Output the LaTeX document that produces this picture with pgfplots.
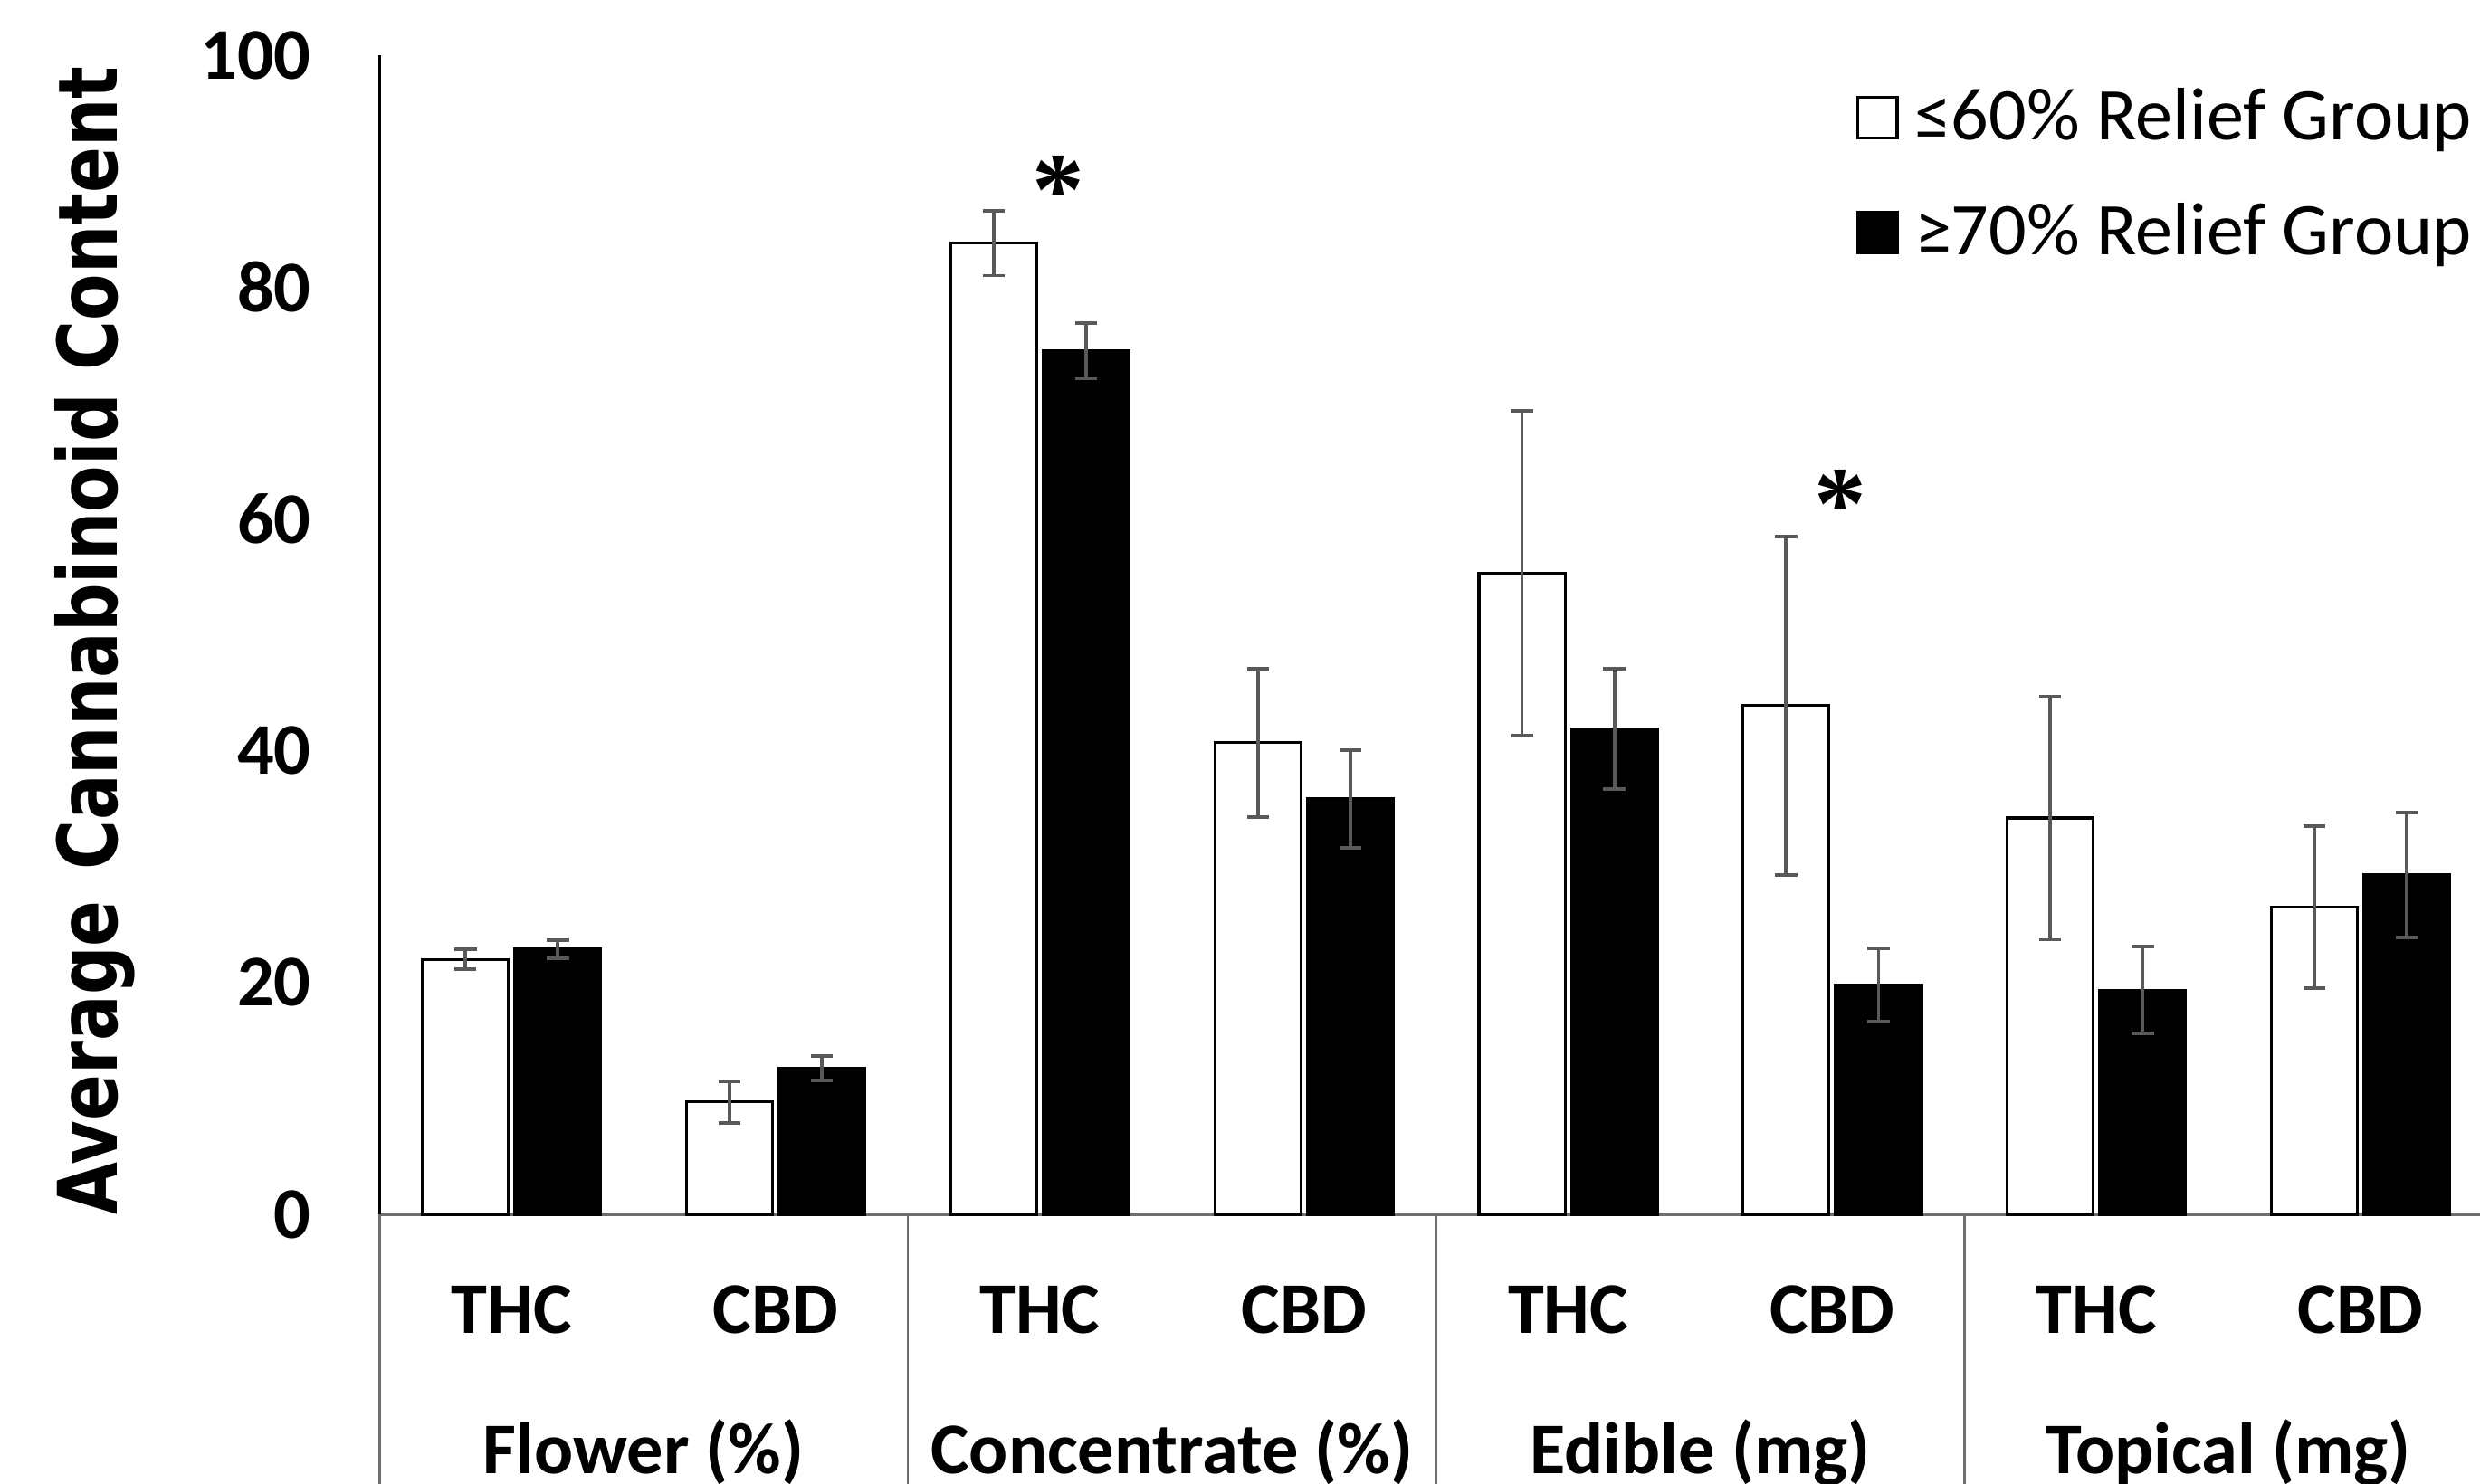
\documentclass[border=0pt]{standalone}
\usepackage{pgfplots}
\usepackage{pgfplotstable}
\pgfplotsset{compat=1.18}
\usepackage{fontspec}
\setmainfont{Carlito}
\newfontfamily\labelfont{DejaVu Sans}
\newfontfamily\starfont{Liberation Serif}
\definecolor{axgray}{RGB}{110,110,110}
\definecolor{errgray}{RGB}{89,89,89}

\pgfplotstableread{
x lo loe hi hie
0 22.0 0.85 22.9 0.77
1 9.7 1.8 12.6 1.05
2 83.8 2.8 74.5 2.4
3 40.7 6.4 35.85 4.2
4 55.3 14.0 41.9 5.2
5 43.9 14.6 19.8 3.15
6 34.2 10.5 19.35 3.75
7 26.5 7.0 29.3 5.4
}\datatable

\begin{document}
\begin{tikzpicture}
\useasboundingbox (-120pt,-85pt) rectangle (664pt,384pt);
\clip (-120pt,-85pt) rectangle (664pt,384pt);
\begin{axis}[
  at={(0pt,0pt)}, anchor=south west,
  scale only axis, width=668pt, height=366.5pt,
  xmin=-0.5, xmax=7.5, ymin=0, ymax=100,
  clip=false,
  axis x line*=bottom, axis y line*=left,
  x axis line style={draw=axgray, line width=1.2pt},
  y axis line style={draw=black, line width=1pt},
  ytick={0,20,...,100},
  xtick={0,...,7},
  xticklabels={THC,CBD,THC,CBD,THC,CBD,THC,CBD},
  major tick length=0pt,
  tick style={draw=none},
  /pgf/number format/assume math mode=true,
  yticklabel style={font=\fontsize{23}{27}\selectfont\bfseries, inner sep=0pt, anchor=east, xshift=-21.5pt},
  xticklabel style={font=\fontsize{23}{27}\selectfont\bfseries, inner sep=0pt, anchor=base, yshift=-37.5pt},
  ylabel={\scalebox{0.825}[1]{Average\hspace{0.45em}Cannabinoid Content}},
  ylabel style={font=\labelfont\fontsize{26}{30}\selectfont\bfseries, at={(axis description cs:-0.1347,0.495)}, anchor=center},
  ybar=2pt, bar width=27.2pt,
  legend style={draw=none, fill=none, at={(0.694,0.898)}, anchor=west,
    font=\fontsize{23.5}{28}\selectfont, row sep=18.5pt, column sep=5pt,
    nodes={inner sep=0pt}},
  legend cell align=left,
]
\addplot[fill=white, draw=black, line width=0.9pt,
  legend image code/.code={\draw[black, fill=white, line width=0.9pt] (0pt,-7pt) rectangle (12.5pt,6pt);},
  error bars/.cd, y dir=both, y explicit,
  error bar style={draw=errgray, line width=1.1pt},
  error mark options={rotate=90, draw=errgray, line width=1.1pt, mark size=3.5pt}]
  table[x=x, y=lo, y error=loe] {\datatable};
\addlegendentry{≤60\% Relief Group}
\addplot[fill=black, draw=black, line width=0.9pt,
  legend image code/.code={\fill[black] (0pt,-7pt) rectangle (12.5pt,6pt);},
  error bars/.cd, y dir=both, y explicit,
  error bar style={draw=errgray, line width=1.1pt},
  error mark options={rotate=90, draw=errgray, line width=1.1pt, mark size=3.5pt}]
  table[x=x, y=hi, y error=hie] {\datatable};
\addlegendentry{≥70\% Relief Group}

\draw[axgray, line width=0.8pt] (axis cs:-0.5,0) -- ([yshift=-110pt]axis cs:-0.5,0);
\draw[axgray, line width=0.8pt] (axis cs:1.5,0) -- ([yshift=-110pt]axis cs:1.5,0);
\draw[axgray, line width=0.8pt] (axis cs:3.5,0) -- ([yshift=-110pt]axis cs:3.5,0);
\draw[axgray, line width=0.8pt] (axis cs:5.5,0) -- ([yshift=-110pt]axis cs:5.5,0);
\draw[axgray, line width=0.8pt] (axis cs:7.5,0) -- ([yshift=-110pt]axis cs:7.5,0);
\node[font=\fontsize{23}{27}\selectfont\bfseries, anchor=base] at ([yshift=-82pt]axis cs:0.5,0) {Flower (\%)};
\node[font=\fontsize{23}{27}\selectfont\bfseries, anchor=base] at ([yshift=-82pt]axis cs:2.5,0) {Concentrate (\%)};
\node[font=\fontsize{23}{27}\selectfont\bfseries, anchor=base] at ([yshift=-82pt]axis cs:4.5,0) {Edible (mg)};
\node[font=\fontsize{23}{27}\selectfont\bfseries, anchor=base] at ([yshift=-82pt]axis cs:6.5,0) {Topical (mg)};
\node[font=\starfont\bfseries\fontsize{33}{33}\selectfont, inner sep=0pt, anchor=base] at ([yshift=-16.5pt]axis cs:2.07,89.9) {*};
\node[font=\starfont\bfseries\fontsize{33}{33}\selectfont, inner sep=0pt, anchor=base] at ([yshift=-16.5pt]axis cs:5.03,62.8) {*};
\end{axis}
\end{tikzpicture}
\end{document}
